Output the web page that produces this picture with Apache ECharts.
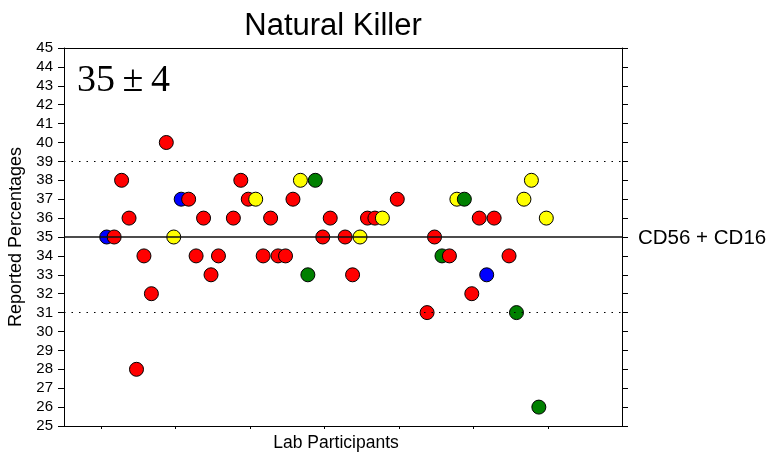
<!DOCTYPE html>
<html>
<head>
<meta charset="utf-8">
<script src="https://cdn.jsdelivr.net/npm/echarts@6/dist/echarts.min.js"></script>
<style>
  html, body { margin: 0; background: #fff; }
  #chart { width: 770px; height: 456px; }
</style>
</head>
<body>
<div id="chart"></div>
<script>
// lab number (position along the x axis), reported value and dot colour group
const participant = [6, 7, 8, 9, 10, 11, 12, 14, 15, 16, 17, 18, 19, 20, 21, 23, 24, 25, 26, 27,
  28, 29, 30, 31, 32, 33, 34, 35, 36, 38, 39, 40, 41, 42, 43, 45, 49, 50, 51, 52,
  53, 54, 55, 56, 57, 58, 60, 61, 62, 63, 64, 65]
const percent = [35, 35, 38, 36, 28, 34, 32, 40, 35, 37, 37, 34, 36, 33, 34, 36, 38, 37, 37, 34,
  36, 34, 34, 37, 38, 33, 38, 35, 36, 35, 33, 35, 36, 36, 36, 37, 31, 35, 34, 34,
  37, 37, 32, 36, 33, 36, 34, 31, 37, 38, 26, 36]
const group = ['blue', 'red', 'red', 'red', 'red', 'red', 'red', 'red', 'yellow', 'blue',
  'red', 'red', 'red', 'red', 'red', 'red', 'red', 'red', 'yellow', 'red',
  'red', 'red', 'red', 'red', 'yellow', 'green', 'green', 'red', 'red', 'red',
  'red', 'yellow', 'red', 'red', 'yellow', 'red', 'red', 'red', 'green', 'red',
  'yellow', 'green', 'red', 'red', 'blue', 'red', 'red', 'green', 'yellow', 'yellow',
  'green', 'yellow']
const target = 35
const lowerLimit = 31
const upperLimit = 39
const xTicks = [5.25, 15.25, 25.25, 35.25, 45.25, 55.25, 65.25]

const groupColor = { red: '#ff0000', blue: '#0000ff', yellow: '#ffff00', green: '#008000' }

const points = participant.map((p, i) => ({
  value: [p, percent[i]],
  itemStyle: { color: groupColor[group[i]] },
}))

const myChart = echarts.init(document.getElementById('chart'))
const dotted = { color: '#000', width: 1.2, type: [1.5, 6] }

myChart.setOption({
  animation: false,
  backgroundColor: '#fff',
  grid: { left: 64, right: 148, top: 48, bottom: 30, outerBoundsMode: 'none', containLabel: false },
  xAxis: [
    {
      type: 'value',
      min: 0.27,
      max: 75.16,
      axisLine: { lineStyle: { color: '#000', width: 1 } },
      axisTick: { show: true, length: 3, customValues: xTicks, lineStyle: { color: '#000' } },
      axisLabel: { show: false },
      splitLine: { show: false },
    },
    {
      type: 'value',
      position: 'top',
      min: 0.27,
      max: 75.16,
      axisLine: { show: true, lineStyle: { color: '#000', width: 1 } },
      axisTick: { show: false },
      axisLabel: { show: false },
      splitLine: { show: false },
    },
  ],
  yAxis: [
    {
      type: 'value',
      min: 25,
      max: 45,
      interval: 1,
      name: 'Reported Percentages',
      nameLocation: 'middle',
      nameGap: 38,
      nameTextStyle: { fontFamily: 'Liberation Sans, Arial', fontSize: 18, color: '#000' },
      axisLine: { show: true, lineStyle: { color: '#000', width: 1 } },
      axisTick: { show: true, length: 6, lineStyle: { color: '#000' } },
      axisLabel: { margin: 11, fontFamily: 'Liberation Sans, Arial', fontSize: 15, color: '#000' },
      splitLine: { show: false },
    },
    {
      type: 'value',
      position: 'right',
      min: 25,
      max: 45,
      interval: 1,
      axisLine: { show: true, lineStyle: { color: '#000', width: 1 } },
      axisTick: { show: true, length: 6, lineStyle: { color: '#000' } },
      axisLabel: { show: false },
      splitLine: { show: false },
    },
  ],
  graphic: [
    {
      type: 'text', x: 333, y: 26,
      style: {
        text: 'Natural Killer', align: 'center', verticalAlign: 'middle',
        font: '31px "Liberation Sans", Arial', fill: '#000',
      },
    },
    {
      type: 'text', x: 77, y: 81,
      style: {
        text: '35\u2009±\u20094', verticalAlign: 'middle',
        font: '38px "Liberation Serif", "Times New Roman", serif', fill: '#000',
      },
    },
    {
      type: 'text', x: 638, y: 238,
      style: {
        text: 'CD56 + CD16', verticalAlign: 'middle',
        font: '20.5px "Liberation Sans", Arial', fill: '#000',
      },
    },
    {
      type: 'text', x: 336, y: 443,
      style: {
        text: 'Lab Participants', align: 'center', verticalAlign: 'middle',
        font: '17.5px "Liberation Sans", Arial', fill: '#000',
      },
    },
  ],
  series: [
    {
      type: 'scatter',
      silent: true,
      symbol: 'circle',
      symbolSize: 14,
      itemStyle: { borderColor: '#000', borderWidth: 1, opacity: 1 },
      data: points,
      markLine: {
        silent: true,
        symbol: 'none',
        label: { show: false },
        data: [
          { yAxis: target, lineStyle: { color: '#111', width: 1.5, type: 'solid' } },
          { yAxis: upperLimit, lineStyle: dotted },
          { yAxis: lowerLimit, lineStyle: dotted },
        ],
      },
    },
  ],
})
</script>
</body>
</html>
